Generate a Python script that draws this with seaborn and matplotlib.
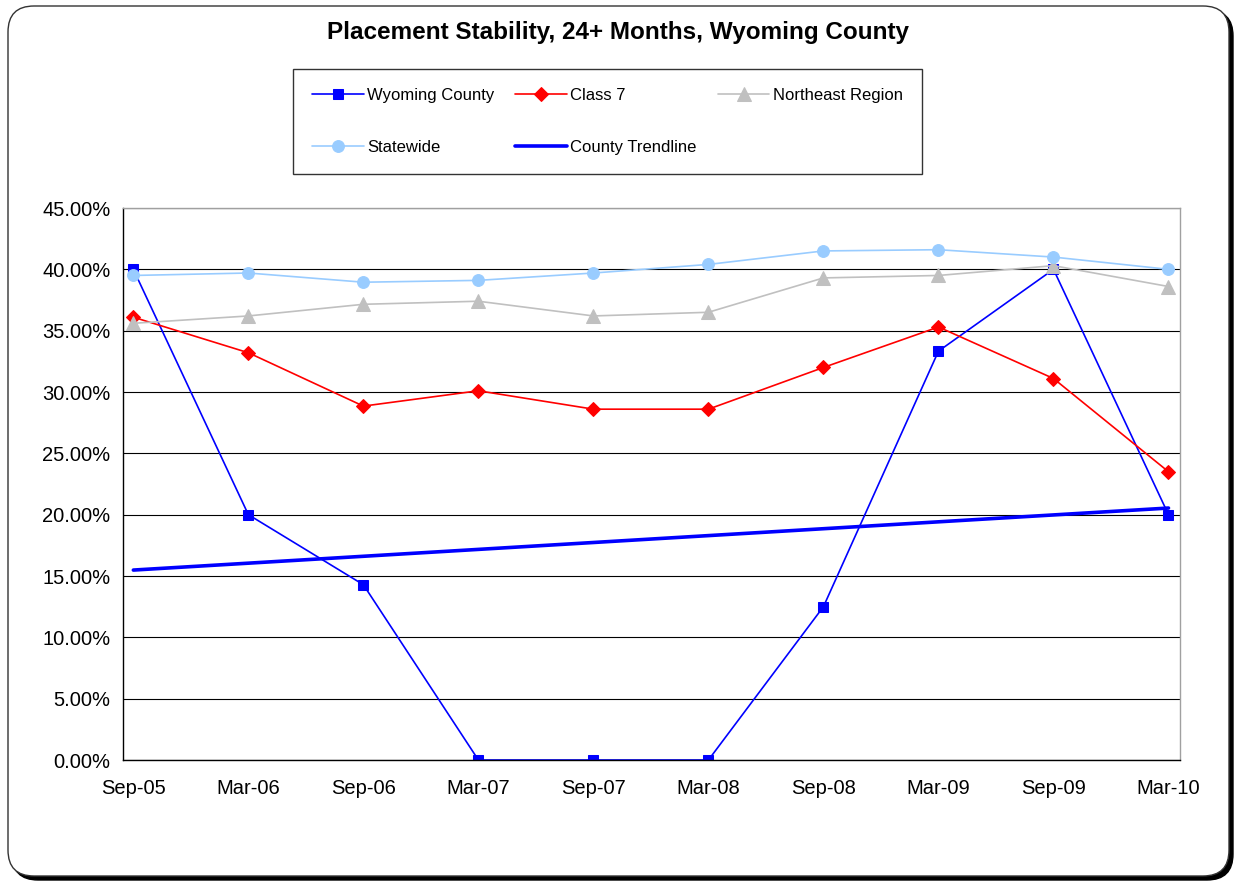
import numpy as np
import pandas as pd
import seaborn as sns
import matplotlib
matplotlib.use('Agg')
import matplotlib.pyplot as plt
from matplotlib.patches import FancyBboxPatch
from matplotlib.transforms import IdentityTransform
from matplotlib.ticker import FuncFormatter, MultipleLocator

# Data (percent)
periods = ['Sep-05', 'Mar-06', 'Sep-06', 'Mar-07', 'Sep-07',
           'Mar-08', 'Sep-08', 'Mar-09', 'Sep-09', 'Mar-10']
wyoming = [40.0, 20.0, 14.29, 0.0, 0.0, 0.0, 12.5, 33.33, 40.0, 20.0]
class7 = [36.1, 33.2, 28.85, 30.1, 28.6, 28.6, 32.0, 35.3, 31.1, 23.5]
northeast = [35.6, 36.2, 37.15, 37.4, 36.2, 36.5, 39.3, 39.5, 40.3, 38.6]
statewide = [39.5, 39.7, 38.95, 39.1, 39.7, 40.4, 41.5, 41.6, 41.0, 40.0]

x = np.arange(len(periods))
df = pd.DataFrame({'x': x, 'Wyoming County': wyoming, 'Class 7': class7,
                   'Northeast Region': northeast, 'Statewide': statewide})

# linear trendline of the county series (like Excel's trendline)
slope, intercept = np.polyfit(x, wyoming, 1)
df['County Trendline'] = intercept + slope * x

sns.set_style('white')
plt.rcParams['font.family'] = ['Liberation Sans', 'DejaVu Sans']
plt.rcParams['text.color'] = 'black'
plt.rcParams['xtick.color'] = 'black'
plt.rcParams['ytick.color'] = 'black'

fig = plt.figure(figsize=(12.36, 8.82), dpi=100)

# rounded chart frame with a drop shadow
shadow = FancyBboxPatch((12, 2), 1221, 870, boxstyle='round,pad=0,rounding_size=26',
                        transform=IdentityTransform(), facecolor='black',
                        edgecolor='black', zorder=-2)
frame = FancyBboxPatch((8, 6), 1221, 870, boxstyle='round,pad=0,rounding_size=26',
                       transform=IdentityTransform(), facecolor='white',
                       edgecolor='#333333', linewidth=1.0, zorder=-1)
fig.patches.extend([shadow, frame])

ax = fig.add_axes([123 / 1236, 1 - 760 / 882, (1180 - 123) / 1236, (760 - 208) / 882])
ax.set_facecolor('white')

series = [
    ('Wyoming County', '#0000FF', 's', 7.5, 1.2),
    ('Class 7', '#FF0000', 'D', 7.5, 1.2),
    ('Northeast Region', '#C0C0C0', '^', 9.5, 1.2),
    ('Statewide', '#99CCFF', 'o', 8.5, 1.2),
]
handles = {}
for name, color, marker, ms, lw in series:
    sns.lineplot(data=df, x='x', y=name, ax=ax, color=color, marker=marker,
                 markersize=ms, markeredgecolor=color, linewidth=lw, label=name)
    handles[name] = ax.lines[-1]

sns.lineplot(data=df, x='x', y='County Trendline', ax=ax, color='#0000FF',
             linewidth=2.6, label='County Trendline')
handles['County Trendline'] = ax.lines[-1]

ax.set_xlim(-0.09, 9.1)
ax.set_ylim(0, 45)
ax.set_xticks(x)
ax.set_xticklabels(periods)
ax.yaxis.set_major_locator(MultipleLocator(5))
ax.yaxis.set_major_formatter(FuncFormatter(lambda v, p: f'{v:.2f}%'))
ax.set_xlabel('')
ax.set_ylabel('')
ax.tick_params(axis='both', which='major', direction='out', length=4, width=0.8,
               color='black', labelsize=14.5, pad=5)
ax.tick_params(axis='x', pad=10)

ax.yaxis.grid(True, color='black', linewidth=0.8)
ax.set_axisbelow(True)
for side in ['left', 'bottom']:
    ax.spines[side].set_color('black')
    ax.spines[side].set_linewidth(1.0)
for side in ['top', 'right']:
    ax.spines[side].set_color('#A0A0A0')
    ax.spines[side].set_linewidth(1.0)

ax.get_legend().remove()
order = ['Wyoming County', 'Statewide', 'Class 7', 'County Trendline', 'Northeast Region']
leg = fig.legend([handles[k] for k in order], order, ncol=3, mode='expand',
                 bbox_to_anchor=(293 / 1236, 1 - 170 / 882, (922 - 293) / 1236, (170 - 69) / 882),
                 loc='upper left', borderaxespad=0, fontsize=12, frameon=True,
                 fancybox=False, edgecolor='black', handlelength=3.1, handletextpad=0.2,
                 labelspacing=2.2, borderpad=1.15, columnspacing=1.0)
leg.get_frame().set_linewidth(1.0)

fig.text(0.5, 1 - 32 / 882, 'Placement Stability, 24+ Months, Wyoming County',
         ha='center', va='center', fontsize=17.5, fontweight='bold')

fig.savefig('out.png', dpi=100)
